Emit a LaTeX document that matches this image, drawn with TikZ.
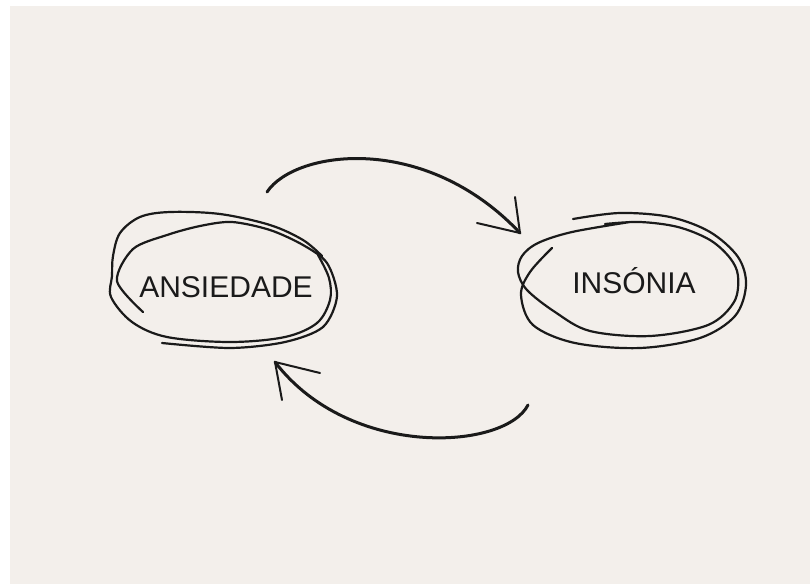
\documentclass[tikz,border=0pt]{standalone}
\usepackage{fontspec}
\setmainfont{Liberation Sans}
\definecolor{bgpaper}{HTML}{F3EFEB}
\definecolor{ink}{HTML}{1A1A1A}
\tikzset{
  lbl/.style={inner sep=0pt, anchor=base, text=ink, font=\fontsize{30}{35}\selectfont},
  loopline/.style={draw=ink, line width=2.2pt, line cap=round, line join=round},
  arrowline/.style={draw=ink, line width=3pt, line cap=round},
  barbline/.style={draw=ink, line width=2pt, line cap=round},
}
\begin{document}
\begin{tikzpicture}[x=1pt,y=-1pt]
\useasboundingbox (0,0) rectangle (810,584);
\fill[white] (0,0) rectangle (810,584);
\fill[bgpaper] (10,6) rectangle (810,584);

% labels
\node[lbl] (ans) at (226,297) {ANSIEDADE};
\node[lbl] (ins) at (634,293) {INSÓNIA};

% hand-drawn loops around ANSIEDADE
\draw[loopline] plot[smooth, tension=0.5] coordinates {(143,312) (117,281) (133,249) (167,235) (200,226) (232,222) (270,230) (303,245) (327,263) (337,296) (323,327) (285,342) (230,348) (162,343)};
\draw[loopline] plot[smooth, tension=0.55] coordinates {(322,256) (303,240) (270,225) (220,214) (170,212) (140,217) (120,233) (113,256) (112,276) (111,297) (132,322) (167,337) (230,342) (285,337) (317,323) (330,300) (329,278) (318,255)};

% hand-drawn loops around INSONIA
\draw[loopline] plot[smooth, tension=0.55] coordinates {(552,248) (530,272) (521,295) (533,325) (575,343) (640,348) (700,338) (735,316) (746,285) (738,257) (710,232) (670,217) (620,213) (573,219)};
\draw[loopline] plot[smooth, tension=0.55] coordinates {(630,222) (572,232) (538,243) (522,256) (518,272) (527,290) (555,312) (590,331) (650,336) (708,325) (734,302) (738,276) (730,258) (710,240) (678,227) (640,222) (605,224)};

% arrows
\coordinate (a1s) at (267,192);
\coordinate (a1t) at (520,233);
\coordinate (a1b) at (515,197);
\coordinate (a1c) at (477,223);
\draw[arrowline] (a1s) .. controls (295,150) and (425,132) .. (a1t);
\draw[barbline] (a1t) -- (a1b);
\draw[barbline] (a1t) -- (a1c);

\coordinate (a2s) at (528,405);
\coordinate (a2t) at (275,362);
\coordinate (a2b) at (282,400);
\coordinate (a2c) at (320,373);
\draw[arrowline] (a2s) .. controls (505,450) and (350,460) .. (a2t);
\draw[barbline] (a2t) -- (a2b);
\draw[barbline] (a2t) -- (a2c);
\end{tikzpicture}
\end{document}
